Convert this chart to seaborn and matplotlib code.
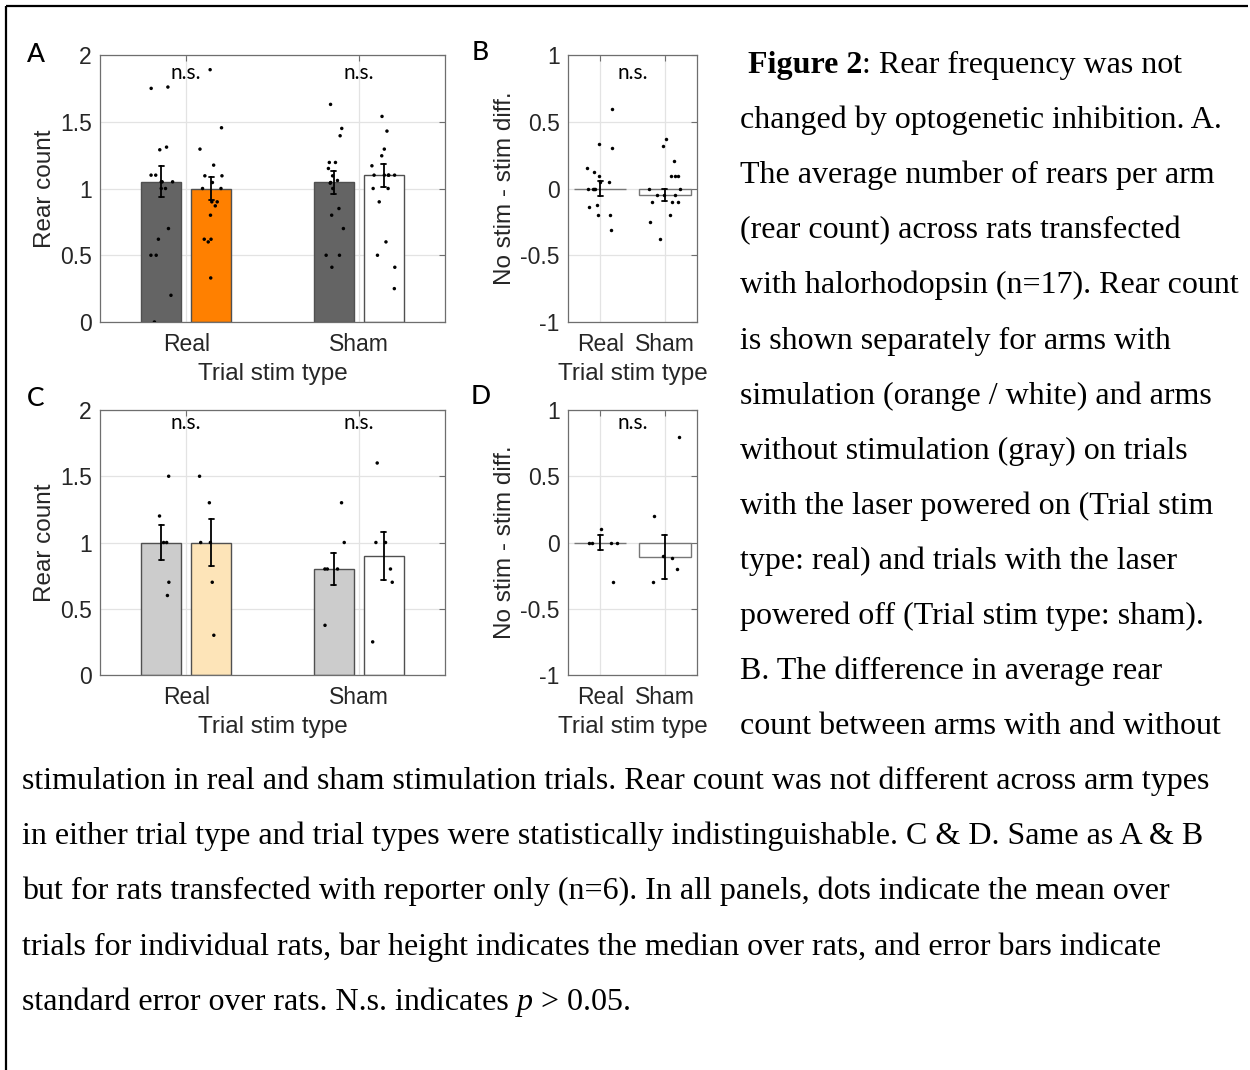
import numpy as np
import pandas as pd
import matplotlib
matplotlib.use("Agg")
import matplotlib.pyplot as plt
from matplotlib.lines import Line2D
import seaborn as sns

# ---------------- data ----------------
categories = ["Real", "Sham"]
arm_types = ["No stim", "Stim"]

# Panel A: halorhodopsin rats (n=17), mean rear count per rat
a_real_nostim = [1.75, 1.76, 1.29, 1.31, 1.05, 1.05, 1.05, 1.1, 1.1, 1.0, 1.0, 0.7, 0.62, 0.5, 0.5, 0.2, 0.0]
a_real_stim = [1.89, 1.455, 1.295, 1.175, 1.095, 1.095, 1.045, 1.0, 1.0, 0.9, 0.9, 0.87, 0.8, 0.62, 0.62, 0.6, 0.33]
a_sham_nostim = [1.63, 1.45, 1.395, 1.195, 1.195, 1.15, 1.095, 1.04, 1.06, 1.045, 1.0, 0.85, 0.8, 0.7, 0.5, 0.5, 0.41]
a_sham_stim = [1.54, 1.43, 1.295, 1.245, 1.17, 1.1, 1.1, 1.1, 1.1, 1.1, 1.0, 1.0, 0.9, 0.6, 0.5, 0.41, 0.25]

# Panel B: no stim - stim difference (n=17)
b_real = [0.595, 0.33, 0.3, 0.15, 0.12, 0.095, 0.05, 0.05, 0, 0, 0, 0, -0.14, -0.12, -0.2, -0.2, -0.31]
b_sham = [0.37, 0.32, 0.205, 0.095, 0.095, 0.095, 0, 0, -0.1, -0.05, -0.05, -0.05, -0.1, -0.1, -0.2, -0.25, -0.375]

# Panel C: reporter-only rats (n=6)
c_real_nostim = [1.5, 1.2, 1.0, 1.0, 0.7, 0.6]
c_real_stim = [1.5, 1.3, 1.0, 1.0, 0.7, 0.3]
c_sham_nostim = [1.3, 1.0, 0.8, 0.8, 0.8, 0.375]
c_sham_stim = [1.6, 1.0, 1.0, 0.8, 0.7, 0.25]

# Panel D: no stim - stim difference (n=6)
d_real = [0.1, 0, 0, 0, 0, -0.3]
d_sham = [0.8, 0.2, -0.1, -0.12, -0.2, -0.3]

ylim_count = (0, 2)
yticks_count = [0, 0.5, 1, 1.5, 2]
yticklabels_count = ["0", "0.5", "1", "1.5", "2"]
ylim_diff = (-1, 1)
yticks_diff = [-1, -0.5, 0, 0.5, 1]
yticklabels_diff = ["-1", "-0.5", "0", "0.5", "1"]

caption_right = [
    "changed by optogenetic inhibition. A.",
    "The average number of rears per arm",
    "(rear count) across rats transfected",
    "with halorhodopsin (n=17). Rear count",
    "is shown separately for arms with",
    "simulation (orange / white) and arms",
    "without stimulation (gray) on trials",
    "with the laser powered on (Trial stim",
    "type: real) and trials with the laser",
    "powered off (Trial stim type: sham).",
    "B. The difference in average rear",
    "count between arms with and without",
]
caption_bottom = [
    "stimulation in real and sham stimulation trials. Rear count was not different across arm types",
    "in either trial type and trial types were statistically indistinguishable. C & D. Same as A & B",
    "but for rats transfected with reporter only (n=6). In all panels, dots indicate the mean over",
    "trials for individual rats, bar height indicates the median over rats, and error bars indicate",
]


def long_df(groups):
    rows = []
    for (trial, arm), vals in groups.items():
        for v in vals:
            rows.append((trial, arm, v))
    return pd.DataFrame(rows, columns=["trial", "arm", "value"])


dfA = long_df({("Real", "No stim"): a_real_nostim, ("Real", "Stim"): a_real_stim,
               ("Sham", "No stim"): a_sham_nostim, ("Sham", "Stim"): a_sham_stim})
dfC = long_df({("Real", "No stim"): c_real_nostim, ("Real", "Stim"): c_real_stim,
               ("Sham", "No stim"): c_sham_nostim, ("Sham", "Stim"): c_sham_stim})
dfB = long_df({("Real", "diff"): b_real, ("Sham", "diff"): b_sham})
dfD = long_df({("Real", "diff"): d_real, ("Sham", "diff"): d_sham})

# ---------------- style ----------------
sns.set_style("white")
plt.rcParams["font.family"] = ["Liberation Sans", "DejaVu Sans"]
plt.rcParams["axes.unicode_minus"] = False

W, H = 1250, 1070
fig = plt.figure(figsize=(W / 100, H / 100), dpi=100)
fig.patch.set_facecolor("white")
fig.patch.set_edgecolor("white")
fig.patch.set_linewidth(0)


def fx(px):
    return px / W


def fy(py):
    return 1 - py / H


axA = fig.add_axes([fx(100), fy(322), (445 - 100) / W, (322 - 55) / H])
axB = fig.add_axes([fx(568), fy(322), (697 - 568) / W, (322 - 55) / H])
axC = fig.add_axes([fx(100), fy(675), (445 - 100) / W, (675 - 410) / H])
axD = fig.add_axes([fx(568), fy(675), (697 - 568) / W, (675 - 410) / H])

SPINE = "#6e6e6e"
TXT = "#262626"
err_kws = {"color": "black", "linewidth": 1.3}


def style_axes(ax, ylim, yticks, yticklabels, ylabel):
    ax.set_xlim(-0.5, 1.5)
    ax.set_ylim(*ylim)
    ax.set_yticks(yticks)
    ax.set_yticklabels(yticklabels)
    ax.grid(True, color="#e3e3e3", linewidth=0.9)
    ax.set_axisbelow(True)
    for s in ax.spines.values():
        s.set_visible(True)
        s.set_color(SPINE)
        s.set_linewidth(0.9)
    ax.tick_params(direction="in", length=4, width=0.8, color=SPINE,
                   top=True, right=True, labelcolor=TXT, labelsize=16.5)
    ax.tick_params(axis="x", pad=8)
    ax.tick_params(axis="y", pad=6)
    ax.set_xlabel("Trial stim type", fontsize=17.5, color=TXT, labelpad=5)
    ax.set_ylabel(ylabel, fontsize=17.5, color=TXT, labelpad=3)


def grouped_panel(ax, df, colors, stim_sham_color):
    sns.barplot(data=df, x="trial", y="value", hue="arm", order=categories,
                hue_order=arm_types, estimator="median", errorbar="se",
                width=0.58, gap=0.2, palette=colors, saturation=1,
                edgecolor="#505050", linewidth=1.0, capsize=0.055,
                err_kws=err_kws, legend=False, ax=ax)
    for p in ax.patches:
        cx = p.get_x() + p.get_width() / 2
        if cx > 1:
            p.set_facecolor(stim_sham_color)
    sns.stripplot(data=df, x="trial", y="value", hue="arm", order=categories,
                  hue_order=arm_types, dodge=True, jitter=0.19,
                  palette=["black", "black"], size=2.5, legend=False, ax=ax)
    # bring dodged dots onto the bar centres (+/-0.145 instead of +/-0.2)
    for coll in ax.collections:
        off = np.asarray(coll.get_offsets(), dtype=float)
        if len(off) == 0:
            continue
        cx = np.round(off[:, 0])
        off[:, 0] = cx + (off[:, 0] - cx) * (0.145 / 0.2)
        coll.set_offsets(off)


def diff_panel(ax, df):
    sns.barplot(data=df, x="trial", y="value", order=categories,
                estimator="median", errorbar="se", width=0.8, color="white",
                saturation=1, edgecolor="#777777", linewidth=1.0,
                capsize=0.08, err_kws=err_kws, ax=ax)
    sns.stripplot(data=df, x="trial", y="value", order=categories, jitter=0.27,
                  color="black", size=2.5, ax=ax)


np.random.seed(7)
grouped_panel(axA, dfA, ["#646464", "#ff8000"], "white")
style_axes(axA, ylim_count, yticks_count, yticklabels_count, "Rear count")
diff_panel(axB, dfB)
style_axes(axB, ylim_diff, yticks_diff, yticklabels_diff, "No stim - stim diff.")
grouped_panel(axC, dfC, ["#cccccc", "#fde4b8"], "white")
style_axes(axC, ylim_count, yticks_count, yticklabels_count, "Rear count")
diff_panel(axD, dfD)
style_axes(axD, ylim_diff, yticks_diff, yticklabels_diff, "No stim - stim diff.")

ns_kw = dict(ha="center", va="center", fontsize=15, color="black", family=["Lato", "DejaVu Sans"])
axA.text(0, 1.865, "n.s.", **ns_kw)
axA.text(1, 1.865, "n.s.", **ns_kw)
axC.text(0, 1.9, "n.s.", **ns_kw)
axC.text(1, 1.9, "n.s.", **ns_kw)
axB.text(0.5, 0.865, "n.s.", **ns_kw)
axD.text(0.5, 0.9, "n.s.", **ns_kw)

# panel letters
let_kw = dict(ha="center", va="center", fontsize=19, color="black",
              weight="medium", family=["Lato", "DejaVu Sans"])
fig.text(fx(36), fy(55), "A", **let_kw)
fig.text(fx(480), fy(52), "B", **let_kw)
fig.text(fx(36), fy(399), "C", **let_kw)
fig.text(fx(481), fy(397), "D", **let_kw)

# caption
FS = 23
cap_kw = dict(family=["Liberation Serif", "DejaVu Serif"], fontsize=FS, color="black", va="baseline", ha="left")
base0 = 73
step = 55.1
renderer = fig.canvas.get_renderer()
space_px = 0.25 * FS * 100 / 72

t0 = fig.text(fx(748), fy(base0), "Figure 2", weight="bold", **cap_kw)
bb = t0.get_window_extent(renderer)
fig.text(bb.x1 / W, fy(base0), ": Rear frequency was not", **cap_kw)

for i, line in enumerate(caption_right, start=1):
    fig.text(fx(740), fy(base0 + step * i), line, **cap_kw)

n_right = len(caption_right) + 1
for j, line in enumerate(caption_bottom):
    fig.text(fx(22), fy(base0 + step * (n_right + j)), line, **cap_kw)

yl = fy(base0 + step * (n_right + len(caption_bottom)))
tl = fig.text(fx(22), yl, "standard error over rats. N.s. indicates", **cap_kw)
bb = tl.get_window_extent(renderer)
tp = fig.text((bb.x1 + space_px) / W, yl, "p", style="italic", **cap_kw)
bb = tp.get_window_extent(renderer)
fig.text((bb.x1 + space_px) / W, yl, "> 0.05.", **cap_kw)

# frame (top and left edges only)
fig.add_artist(Line2D([fx(6), fx(1248)], [fy(6), fy(6)], transform=fig.transFigure,
                      color="black", linewidth=1.6, solid_capstyle="butt"))
fig.add_artist(Line2D([fx(6), fx(6)], [fy(6), fy(1070)], transform=fig.transFigure,
                      color="black", linewidth=1.6, solid_capstyle="butt"))

fig.savefig("out.png", dpi=100, facecolor="white", edgecolor="white")
